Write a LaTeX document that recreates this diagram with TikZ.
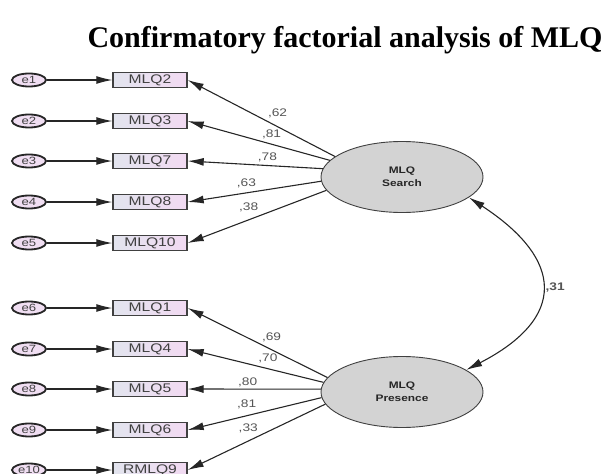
\documentclass[tikz,border=0pt]{standalone}
\usepackage{fontspec}
\setmainfont{Liberation Serif}
\newfontfamily\amosfont[FakeStretch=1.25]{Liberation Sans}
\usetikzlibrary{shapes.geometric,arrows.meta}
\definecolor{errfill}{RGB}{240,222,242}
\definecolor{boxleft}{RGB}{226,228,238}
\definecolor{boxright}{RGB}{242,218,242}
\definecolor{latfill}{RGB}{211,211,211}
\definecolor{loadgray}{RGB}{85,85,85}
\tikzset{
  errnode/.style={ellipse,draw=black!85,line width=1.8pt,fill=errfill,minimum width=34pt,minimum height=13pt,inner sep=0pt,font=\amosfont\fontsize{10.5}{11}\selectfont,text=black!75},
  obsnode/.style={rectangle,draw=black!75,line width=1.4pt,left color=boxleft,right color=boxright,minimum width=74pt,minimum height=15pt,inner sep=0pt,font=\amosfont\fontsize{12.5}{13}\selectfont,text=black!75},
  latnode/.style={ellipse,draw=black!75,line width=0.9pt,fill=latfill,minimum width=162pt,minimum height=71pt,inner sep=0pt,align=center,font=\amosfont\bfseries\fontsize{9.5}{13}\selectfont,text=black!85},
  loadlabel/.style={font=\amosfont\fontsize{11}{11}\selectfont,text=loadgray,inner sep=0pt}
}
\begin{document}
\begin{tikzpicture}[x=1pt,y=-1pt,>={Latex[length=16pt,width=8pt]}]
	\useasboundingbox (0,0) rectangle (608,474);
	\node[anchor=base east,font=\bfseries\fontsize{30}{30}\selectfont] (title) at (606,47) {Confirmatory factorial analysis of MLQ};

	% latent factors
	\node[latnode] (search) at (402,177) {MLQ\\Search};
	\node[latnode] (presence) at (402,392) {MLQ\\Presence};

	% error terms and items
	\foreach \i/\y/\item in {1/80/MLQ2,2/121/MLQ3,3/161/MLQ7,4/202/MLQ8,5/243/MLQ10,
		6/308/MLQ1,7/349/MLQ4,8/389/MLQ5,9/430/MLQ6,10/470/RMLQ9}{
		\node[errnode] (e\i) at (29,\y) {e\i};
		\node[obsnode] (o\i) at (150,\y) {\item};
		\draw[->,line width=1.1pt,black!85] (e\i) -- (o\i);
	}

	% loadings
	\begin{scope}[->,line width=1.1pt,black!85]
		\foreach \i/\ang/\p/\s/\v in {1/163/0.39/13/62,2/167/0.41/10/81,3/174/0.41/8/78,4/183/0.56/10/63,5/190/0.56/12/38}
			\draw (search.\ang) -- (o\i.east) node[loadlabel,pos=\p,yshift=\s pt]{,\v};
		\foreach \i/\ang/\p/\s/\v in {6/169/0.40/12/69,7/173/0.41/10/70,8/178/0.55/7/80,9/184/0.56/11/81,10/189/0.56/13/33}
			\draw (presence.\ang) -- (o\i.east) node[loadlabel,pos=\p,yshift=\s pt]{,\v};
	\end{scope}

	% covariance
	\draw[<->,line width=1.1pt,black!85] (search.-17) .. controls +(95,62) and +(101,-52) .. (presence.19)
		node[loadlabel,pos=0.5,right=4pt,font=\amosfont\bfseries\fontsize{11}{11}\selectfont]{,31};
\end{tikzpicture}
\end{document}
